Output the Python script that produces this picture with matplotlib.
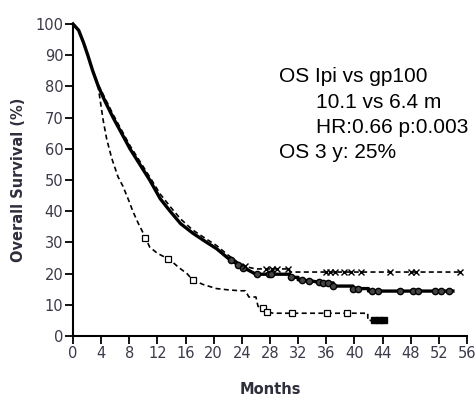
import matplotlib
matplotlib.use("Agg")
import matplotlib.pyplot as plt
import numpy as np

# Kaplan-Meier curves (months, % surviving)
# repeated times = vertical drops of the step curve
ipi_gp_t = [0, 0.8, 1.5, 2.1, 2.8, 3.6, 4.6, 5.7, 6.9, 8.1, 9.5, 10.9, 12.4, 13.8, 15.3,
            17.0, 19.0, 20.4, 22.0, 23.7, 25.0, 26.0, 30.8, 30.8, 32.0, 32.0, 34.0,
            35.5, 37.0, 37.0, 39.8, 39.8, 42.0, 42.0, 54.0]
ipi_gp_s = [100, 98, 94, 90, 85, 80, 75, 70, 65, 60, 55, 50, 44, 40, 36,
            33, 30, 28, 25, 22.5, 21, 19.8, 19.8, 18.8, 18.8, 18, 17.6,
            17, 17, 16, 16, 15.2, 15.2, 14.4, 14.4]
ipi_gp_cens = [22.5, 23.5, 24.2, 26.2, 27.8, 28.2, 31.0, 32.5, 33.5, 35.0, 35.5, 36.2,
               37.0, 39.8, 40.5, 42.5, 43.3, 46.5, 48.3, 49.0, 51.5, 52.3, 53.5]

ipi_t = [0, 0.8, 1.5, 2.1, 2.8, 3.6, 4.6, 5.7, 6.9, 8.1, 9.5, 10.9, 12.4, 13.8, 15.3,
         17.0, 19.0, 20.4, 22.0, 23.7, 25.0, 26.0, 30.8, 30.8, 55.0]
ipi_s = [100, 98, 94, 90, 85, 80.5, 76, 71, 66, 61, 56, 51, 45.5, 41.5, 37.5,
         34, 31, 29, 26, 23.2, 22, 21.5, 21.5, 20.5, 20.5]
ipi_cens = [24.5, 27.5, 28.3, 29.0, 30.5, 36.0, 36.5, 37.2, 38.5, 39.5, 41.0, 45.0,
            48.0, 48.8, 55.0]

gp_t = [0, 0.8, 1.5, 2.1, 2.8, 3.6, 4.3, 4.8, 5.5, 6.4, 7.1, 8.0, 8.5, 9.3, 10.2,
        10.9, 12.0, 13.8, 15.0, 16.2, 17.0, 18.5, 20.4, 22.0, 23.7, 24.5, 25.0,
        26.0, 26.3, 27.0, 27.3, 28.5, 41.9, 41.9, 44.6]
gp_s = [100, 98, 94, 90, 85, 79.5, 69, 63, 57, 51, 48, 43, 40, 36, 32,
        28.5, 26.5, 24.4, 22, 20, 18, 16.5, 15.2, 14.8, 14.5, 14.5, 12.5,
        12.5, 9.5, 9, 7.8, 7.3, 7.3, 5, 5]
gp_cens = [10.3, 13.5, 17.0, 27.0, 27.6, 31.1, 36.1, 39.0]
gp_cens_end = [42.8, 43.5, 44.2]

annot = ["OS Ipi vs gp100", "10.1 vs 6.4 m", "HR:0.66 p:0.003", "OS 3 y: 25%"]
annot_indent = [False, True, True, False]


def step_at(t, s, x):
    idx = np.searchsorted(t, x, side="right") - 1
    return np.asarray(s)[idx]


def y_at(t, s, x):
    return np.interp(x, t, s)


fig = plt.figure(figsize=(4.75, 3.97), dpi=100)
ax = fig.add_axes([73 / 475, 61 / 397, 394 / 475, 312 / 397])

ax.plot(ipi_gp_t, ipi_gp_s, color="black", lw=2.4, clip_on=False)
ax.plot(ipi_t, ipi_s, color="black", lw=1.2, ls=(0, (3, 2)), clip_on=False)
ax.plot(gp_t, gp_s, color="black", lw=1.2, ls=(0, (3, 2)), clip_on=False)

ax.plot(ipi_gp_cens, y_at(ipi_gp_t, ipi_gp_s, ipi_gp_cens), "o", ms=4.5,
        color="black", mfc="#444444", ls="none")
ax.plot(ipi_cens, y_at(ipi_t, ipi_s, ipi_cens), "x", ms=4, mew=1.0,
        color="black", ls="none", clip_on=False)
ax.plot(gp_cens, y_at(gp_t, gp_s, gp_cens), "s", ms=3.8, mew=0.9,
        color="black", mfc="white", ls="none")
ax.plot(gp_cens_end, step_at(gp_t, gp_s, gp_cens_end), "s", ms=4,
        color="black", ls="none")

ax.set_xlim(0, 56)
ax.set_ylim(0, 100)
ax.set_xticks(np.arange(0, 57, 4))
ax.set_yticks(np.arange(0, 101, 10))
for side in ["top", "right"]:
    ax.spines[side].set_visible(False)
for side in ["left", "bottom"]:
    ax.spines[side].set_linewidth(1.5)
ax.tick_params(direction="out", length=6, width=1.3, pad=1, labelsize=10.5,
               labelcolor="#3a3a4a")

ax.set_xlabel("Months", fontsize=10.5, fontweight="bold", color="#2e2e3c",
              labelpad=15)
ax.set_ylabel("Overall Survival (%)", fontsize=10.5, fontweight="bold", color="#2e2e3c",
              labelpad=7)

y0 = 82
for i, line in enumerate(annot):
    x = 316 if annot_indent[i] else 279
    fig.text(x / 475, 1 - (y0 + i * 25.5) / 397, line, fontsize=15,
             family="Liberation Sans", va="baseline", ha="left")

fig.savefig("out.png", dpi=100)
